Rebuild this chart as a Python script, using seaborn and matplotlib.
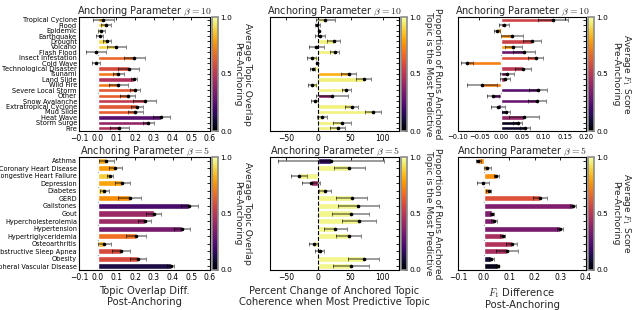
import numpy as np
import matplotlib
matplotlib.use("Agg")
import matplotlib.pyplot as plt
import seaborn as sns
from matplotlib.colors import Normalize
from matplotlib.cm import ScalarMappable

# ---------------- data ----------------
top_cats = ["Tropical Cyclone", "Flood", "Epidemic", "Earthquake", "Drought", "Volcano",
            "Flash Flood", "Insect Infestation", "Cold Wave", "Technological Disaster",
            "Tsunami", "Land Slide", "Wild Fire", "Severe Local Storm", "Other",
            "Snow Avalanche", "Extratropical Cyclone", "Mud Slide", "Heat Wave",
            "Storm Surge", "Fire"]
bot_cats = ["Asthma", "Coronary Heart Disease", "Congestive Heart Failure", "Depression",
            "Diabetes", "GERD", "Gallstones", "Gout", "Hypercholesterolemia", "Hypertension",
            "Hypertriglyceridemia", "Osteoarthritis", "Obstructive Sleep Apnea", "Obesity",
            "Peripheral Vascular Disease"]

# Topic overlap diff, beta=10
ov10_mean = [0.03, 0.045, 0.02, 0.01, 0.05, 0.10, -0.01, 0.195, -0.01, 0.165, 0.11, 0.195,
             0.11, 0.20, 0.16, 0.25, 0.21, 0.20, 0.34, 0.27, 0.115]
ov10_err = [0.055, 0.025, 0.018, 0.02, 0.02, 0.05, 0.055, 0.055, 0.022, 0.055, 0.03, 0.015,
            0.05, 0.025, 0.04, 0.06, 0.03, 0.04, 0.045, 0.03, 0.05]
ov10_col = [0.84, 0.90, 0.93, 0.91, 0.91, 0.90, 0.77, 0.66, 0.87, 0.58, 0.70, 0.48, 0.70,
            0.62, 0.64, 0.52, 0.62, 0.64, 0.25, 0.40, 0.47]

# Topic overlap diff, beta=5
ov5_mean = [0.045, 0.095, 0.065, 0.13, 0.035, 0.17, 0.49, 0.30, 0.25, 0.45, 0.205, 0.035,
            0.125, 0.215, 0.39]
ov5_err = [0.04, 0.035, 0.015, 0.04, 0.025, 0.06, 0.045, 0.04, 0.035, 0.045, 0.055, 0.035,
           0.05, 0.045, 0.02]
ov5_col = [0.82, 0.78, 0.88, 0.80, 0.90, 0.75, 0.22, 0.42, 0.42, 0.33, 0.68, 0.85, 0.58,
           0.58, 0.12]

# Percent change of coherence, beta=10
pc10_mean = [11, -1.5, 0.5, 3, 24, -3, 25, -10, -1.5, -9, 47, 70, -10, 43, 21, -6, 52, 85,
             6, 37, 30]
pc10_err = [15, 3.5, 1, 8, 10, 11, 7, 7, 1.5, 4.5, 12, 12, 6, 7, 25, 5, 10, 12, 8, 14, 12]
pc10_col = [0.97, 0.97, 0.97, 0.97, 0.96, 0.97, 0.96, 0.97, 0.97, 0.97, 0.82, 0.95, 0.97,
            0.96, 0.38, 0.97, 0.96, 0.96, 0.97, 0.96, 0.96]

# Percent change of coherence, beta=5
pc5_mean = [20, 48, -30, -12, 10, 52, 62, 50, 63, 26, 47, -7, 2, 70, 50]
pc5_err = [82, 24, 12, 14, 9, 24, 32, 29, 26, 18, 19, 7, 7, 24, 28]
pc5_col = [0.15, 0.97, 0.97, 0.42, 0.97, 0.97, 0.97, 0.97, 0.97, 0.97, 0.97, 0.97, 0.97,
           0.97, 0.97]

# F1 difference, beta=10
f10_mean = [0.123, 0.008, -0.008, 0.027, 0.073, 0.03, 0.055, 0.082, -0.078, 0.053, 0.015,
            0.01, -0.043, 0.087, -0.018, 0.085, -0.007, 0.012, 0.055, 0.04, 0.057]
f10_err = [0.035, 0.011, 0.007, 0.026, 0.021, 0.02, 0.025, 0.017, 0.014, 0.019, 0.016,
           0.012, 0.035, 0.021, 0.013, 0.021, 0.016, 0.01, 0.035, 0.01, 0.011]
f10_col = [0.55, 0.55, 0.80, 0.75, 0.55, 0.80, 0.30, 0.60, 0.72, 0.50, 0.35, 0.45, 0.72,
           0.25, 0.30, 0.30, 0.25, 0.12, 0.40, 0.05, 0.08]

# F1 difference, beta=5
f5_mean = [-0.02, 0.015, 0.05, -0.002, 0.02, 0.22, 0.35, 0.032, 0.04, 0.30, 0.075, 0.11,
           0.09, 0.03, 0.055]
f5_err = [0.01, 0.012, 0.01, 0.022, 0.009, 0.027, 0.011, 0.007, 0.012, 0.012, 0.01, 0.022,
          0.043, 0.01, 0.006]
f5_col = [0.75, 0.75, 0.75, 0.62, 0.75, 0.60, 0.35, 0.35, 0.35, 0.33, 0.45, 0.48, 0.45,
          0.10, 0.05]

# ---------------- style ----------------
sns.set_style("white")
plt.rcParams.update({
    "font.family": ["DejaVu Sans"],
    "mathtext.fontset": "cm",
    "xtick.direction": "in",
    "ytick.direction": "in",
    "xtick.top": True,
    "ytick.right": True,
    "xtick.major.size": 2.5,
    "ytick.major.size": 2.0,
    "xtick.major.width": 0.6,
    "ytick.major.width": 0.6,
    "axes.edgecolor": "black",
    "axes.linewidth": 0.8,
    "xtick.color": "black",
    "ytick.color": "black",
})

cmap = plt.get_cmap("inferno")
norm = Normalize(0, 1)

W, H = 634, 310
fig = plt.figure(figsize=(W / 100, H / 100), dpi=100)

def fx(px):
    return px / W

rows = {"top": (17, 131), "bot": (157, 270)}
cols = {"left": (79, 210, 212), "mid": (270, 399, 401), "right": (458, 586, 588)}


def panel(col, row, cats, mean, err, colv, xlim, xticks, xticklabels, title,
          cbar_label, show_labels, zero_style, xlabel=None, cbar_pad=2, ylab_fs=5.0,
          xtick_fs=5.5):
    x0, x1, cx = cols[col]
    y0, y1 = rows[row]
    ax = fig.add_axes([fx(x0), 1 - y1 / H, fx(x1 - x0), (y1 - y0) / H])
    cax = fig.add_axes([fx(cx), 1 - y1 / H, fx(6), (y1 - y0) / H])
    mean = np.asarray(mean, dtype=float)
    err = np.asarray(err, dtype=float)
    colors = [cmap(norm(v)) for v in colv]
    sns.barplot(x=mean, y=cats, hue=cats, palette=colors, legend=False,
                errorbar=None, orient="h", width=0.8, saturation=1, ax=ax)
    pos = np.arange(len(cats))
    if zero_style == "dashed":
        ax.axvline(0, color="black", lw=0.8, ls="--", zorder=5)
    else:
        ax.axvline(0, color="0.55", lw=0.8, zorder=0.5)
    ax.errorbar(mean, pos, xerr=err, fmt="o", color="black", ms=1.6,
                ecolor=(0, 0, 0, 0.5), elinewidth=1.1, capsize=1.5, capthick=0.7,
                zorder=6)
    ax.set_xlim(*xlim)
    ax.set_xticks(xticks)
    ax.set_xticklabels(xticklabels, fontsize=xtick_fs)
    ax.set_ylim(len(cats) - 0.5, -0.5)
    ax.set_yticks(pos)
    if show_labels:
        ax.set_yticklabels(cats, fontsize=ylab_fs)
    else:
        ax.set_yticklabels([])
    ax.tick_params(axis="x", pad=2)
    ax.tick_params(axis="y", pad=1.5)
    ax.set_ylabel("")
    ax.set_xlabel(xlabel if xlabel else "", fontsize=7.2, labelpad=3, linespacing=1.1)
    ax.set_title(title, fontsize=7.0, pad=2)
    for s in ax.spines.values():
        s.set_visible(True)
        s.set_color("black")
    sm = ScalarMappable(norm=norm, cmap=cmap)
    cb = fig.colorbar(sm, cax=cax)
    cb.set_ticks([0.0, 0.5, 1.0])
    cb.set_ticklabels(["0.0", "0.5", "1.0"])
    cb.ax.tick_params(labelsize=5.3, direction="in", length=2, pad=1.5)
    cb.outline.set_edgecolor("0.55")
    cb.outline.set_linewidth(1.2)
    cb.set_label(cbar_label, rotation=270, fontsize=6.6, labelpad=cbar_pad,
                 linespacing=1.05, va="bottom")
    return ax


t10 = "Anchoring Parameter $\\beta=10$"
t5 = "Anchoring Parameter $\\beta=5$"
lab_ov = "Average Topic Overlap\nPre-Anchoring"
lab_pr = "Proportion of Runs Anchored\nTopic is the Most Predictive"
lab_f1 = "Average $F_1$ Score\nPre-Anchoring"

ov_ticks = [-0.1, 0.0, 0.1, 0.2, 0.3, 0.4, 0.5, 0.6]
ov_tl = ["\u22120.1", "0.0", "0.1", "0.2", "0.3", "0.4", "0.5", "0.6"]
pc_ticks = [-50, 0, 50, 100]
pc_tl = ["\u221250", "0", "50", "100"]
f10_ticks = [-0.10, -0.05, 0.0, 0.05, 0.10, 0.15, 0.20]
f10_tl = ["\u22120.10", "\u22120.05", "0.00", "0.05", "0.10", "0.15", "0.20"]
f5_ticks = [-0.1, 0.0, 0.1, 0.2, 0.3, 0.4]
f5_tl = ["\u22120.1", "0.0", "0.1", "0.2", "0.3", "0.4"]

panel("left", "top", top_cats, ov10_mean, ov10_err, ov10_col, (-0.1, 0.6), ov_ticks, ov_tl,
      t10, lab_ov, True, "solid", ylab_fs=4.8, cbar_pad=1)
panel("left", "bot", bot_cats, ov5_mean, ov5_err, ov5_col, (-0.1, 0.6), ov_ticks, ov_tl,
      t5, lab_ov, True, "solid", xlabel="Topic Overlap Diff.\nPost-Anchoring", ylab_fs=4.7,
      cbar_pad=1)
panel("mid", "top", top_cats, pc10_mean, pc10_err, pc10_col, (-75, 125), pc_ticks, pc_tl,
      t10, lab_pr, False, "dashed", cbar_pad=2)
panel("mid", "bot", bot_cats, pc5_mean, pc5_err, pc5_col, (-75, 125), pc_ticks, pc_tl,
      t5, lab_pr, False, "dashed", cbar_pad=2,
      xlabel="Percent Change of Anchored Topic\nCoherence when Most Predictive Topic")
panel("right", "top", top_cats, f10_mean, f10_err, f10_col, (-0.10, 0.20), f10_ticks, f10_tl,
      t10, lab_f1, False, "solid", xtick_fs=4.9)
panel("right", "bot", bot_cats, f5_mean, f5_err, f5_col, (-0.1, 0.4), f5_ticks, f5_tl,
      t5, lab_f1, False, "solid", xlabel="$F_1$ Difference\nPost-Anchoring")

fig.savefig("out.png", dpi=100)
